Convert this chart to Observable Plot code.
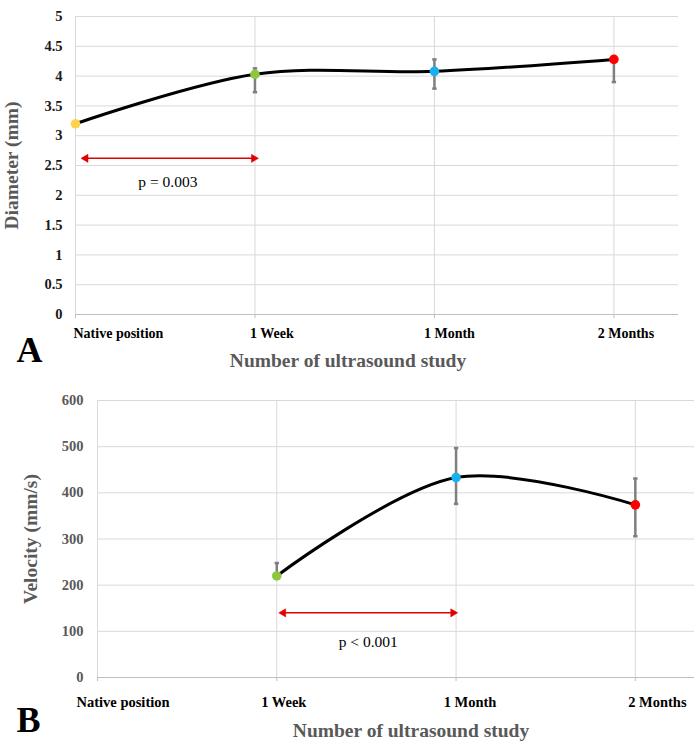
<!DOCTYPE html>
<html>
<head>
<meta charset="utf-8">
<script src="https://cdn.jsdelivr.net/npm/d3@7"></script>
<script src="https://cdn.jsdelivr.net/npm/@observablehq/plot@0.6"></script>
<style>
  html, body { margin: 0; padding: 0; background: #fff; }
  #chart svg { display: block; }
</style>
</head>
<body>
<div id="chart"></div>
<script>
// ---- Data ----
const categories = ["Native position", "1 Week", "1 Month", "2 Months"];
const pointColors = ["#FFD34E", "#8DC63F", "#1AAFEF", "#FF0000"];

const diameterMean = [3.20, 4.03, 4.08, 4.28];
const diameterLow  = [null, 3.73, 3.79, 3.90];
const diameterHigh = [null, 4.13, 4.28, 4.30];
const diameterTicks = [0, 0.5, 1, 1.5, 2, 2.5, 3, 3.5, 4, 4.5, 5];

const velocityMean = [null, 220, 433, 374];
const velocityLow  = [null, 214, 376, 306];
const velocityHigh = [null, 248, 497, 431];
const velocityTicks = [0, 100, 200, 300, 400, 500, 600];

// significance annotations
const sigA = {x1: 0.04, x2: 1.01, y: 2.62, label: "p = 0.003", lx: 0.515, ly: 2.23};
const sigB = {x1: 1.02, x2: 2.0, y: 140, label: "p < 0.001", lx: 1.51, ly: 77};

const xTitle = "Number of ultrasound study";

// ---- helpers ----
const capSymbol = {
  draw(context, size) {
    const r = Math.sqrt(size / Math.PI);
    context.moveTo(-r, 0);
    context.lineTo(r, 0);
  }
};

function rowsFor(mean, lo, hi) {
  return categories.map((c, i) => ({i, cat: c, mean: mean[i], lo: lo[i], hi: hi[i], color: pointColors[i]}));
}

function panel(cfg) {
  const rows = rowsFor(cfg.mean, cfg.lo, cfg.hi);
  const pts = rows.filter(d => d.mean != null);
  const errs = rows.filter(d => d.lo != null);
  const idx = categories.map((c, i) => i);
  const red = "#e00000";
  const catMarks = rows.map((d, k) => Plot.text([d], {
    x: "i", text: "cat", frameAnchor: "bottom", dy: cfg.catDy, dx: cfg.catDx[k],
    textAnchor: k === 0 ? "start" : "middle", lineAnchor: "middle",
    fontWeight: "bold", fontSize: cfg.catSize, fill: "#000"
  }));
  return Plot.plot({
    width: 699,
    height: cfg.height,
    marginTop: cfg.mt, marginBottom: cfg.mb, marginLeft: cfg.ml, marginRight: cfg.mr,
    style: {fontFamily: "'Liberation Serif', 'Times New Roman', serif", fontSize: "14px", background: "#fff", overflow: "visible"},
    x: {type: "linear", domain: [0, cfg.xmax], axis: null},
    y: {domain: [0, cfg.ticks[cfg.ticks.length - 1]], axis: null},
    color: {type: "identity"},
    marks: [
      Plot.ruleY(cfg.ticks.slice(1), {stroke: "#d9d9d9", strokeWidth: 1}),
      Plot.ruleX(idx, {stroke: "#d9d9d9", strokeWidth: 1}),
      Plot.ruleY([0], {stroke: "#bfbfbf", strokeWidth: 1.2}),
      Plot.axisX({ticks: idx, tickSize: 4, tickFormat: () => "", stroke: "#bfbfbf", anchor: "bottom"}),
      Plot.axisY({ticks: cfg.ticks, tickSize: 0, tickPadding: cfg.tickPad, tickFormat: d => String(d),
        fontWeight: "bold", fontSize: "14.5px", fill: cfg.tickColor, label: null}),
      // category labels
      ...catMarks,
      // titles
      Plot.text([cfg.yTitle], {frameAnchor: "left", dx: cfg.yTitleDx, rotate: -90, text: d => d,
        textAnchor: "middle", lineAnchor: "middle", fontWeight: "bold", fontSize: "19.5px", fill: "#595959"}),
      Plot.text([xTitle], {frameAnchor: "bottom", dx: cfg.xTitleDx, dy: cfg.xTitleDy, text: d => d,
        textAnchor: "middle", lineAnchor: "middle", fontWeight: "bold", fontSize: "19.5px", fill: "#595959"}),
      Plot.text([cfg.letter], {frameAnchor: "bottom-left", dx: cfg.letterDx, dy: cfg.letterDy, text: d => d,
        textAnchor: "middle", lineAnchor: "middle", fontWeight: "bold", fontSize: "36px", fill: "#000"}),
      // significance arrow (double headed, filled heads)
      Plot.link([cfg.sig], {x1: "x1", x2: "x2", y1: "y", y2: "y", stroke: red, strokeWidth: 1.5}),
      Plot.dot([cfg.sig], {x: "x1", y: "y", dx: 3, symbol: "triangle", rotate: -90, r: 3, fill: red, stroke: red, strokeWidth: 0.5}),
      Plot.dot([cfg.sig], {x: "x2", y: "y", dx: -3, symbol: "triangle", rotate: 90, r: 3, fill: red, stroke: red, strokeWidth: 0.5}),
      Plot.text([cfg.sig], {x: "lx", y: "ly", text: "label", fontSize: "15.5px", fill: "#000"}),
      // smoothed line
      Plot.line(pts, {x: "i", y: "mean", curve: "catmull-rom", stroke: "#000", strokeWidth: 3}),
      // error bars
      Plot.ruleX(errs, {x: "i", y1: "lo", y2: "hi", stroke: "#7f7f7f", strokeWidth: 2.5}),
      Plot.dot(errs, {x: "i", y: "lo", symbol: capSymbol, r: 2.2, stroke: "#7f7f7f", strokeWidth: 2.5, fill: "none"}),
      Plot.dot(errs, {x: "i", y: "hi", symbol: capSymbol, r: 2.2, stroke: "#7f7f7f", strokeWidth: 2.5, fill: "none"}),
      // points
      Plot.dot(pts, {x: "i", y: "mean", r: 4.8, fill: "color", stroke: "none"})
    ]
  });
}

const plotA = panel({
  mean: diameterMean, lo: diameterLow, hi: diameterHigh, ticks: diameterTicks,
  height: 375, mt: 16, mb: 61, ml: 75, mr: 21, xmax: 3.36,
  tickPad: 13, tickColor: "#1a1a1a",
  catDy: 19, catDx: [-2, 17, 15, 12], catSize: "14px",
  yTitle: "Diameter (mm)", yTitleDx: -64,
  xTitleDx: -29, xTitleDy: 46,
  letter: "A", letterDx: -46, letterDy: 36,
  sig: sigA
});

const plotB = panel({
  mean: velocityMean, lo: velocityLow, hi: velocityHigh, ticks: velocityTicks,
  height: 380, mt: 25, mb: 78, ml: 97, mr: 5, xmax: 3.33,
  tickPad: 14, tickColor: "#595959",
  catDy: 25, catDx: [-21, 7, 14, 22], catSize: "14.5px",
  yTitle: "Velocity (mm/s)", yTitleDx: -67,
  xTitleDx: 15, xTitleDy: 53,
  letter: "B", letterDx: -69, letterDy: 43,
  sig: sigB
});

const chart = document.getElementById("chart");
chart.appendChild(plotA);
chart.appendChild(plotB);
</script>
</body>
</html>
